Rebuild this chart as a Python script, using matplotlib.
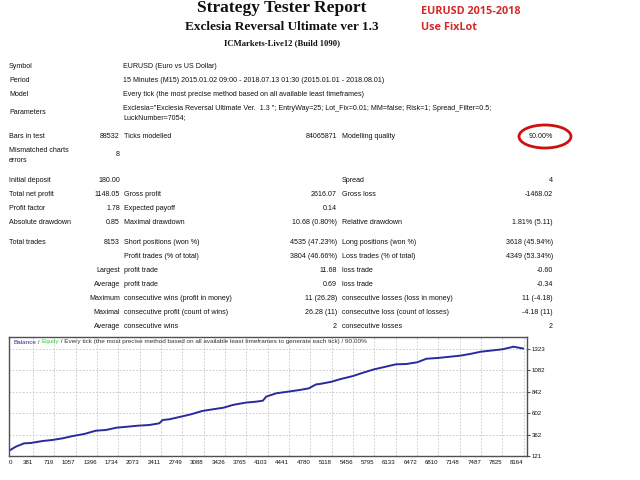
import matplotlib
matplotlib.use('Agg')
import matplotlib.pyplot as plt
from matplotlib.patches import Ellipse

plt.rcParams['font.family'] = ['Liberation Sans', 'DejaVu Sans']

# header texts
title = 'Strategy Tester Report'
expert = 'Exclesia Reversal Ultimate ver 1.3'
server = 'ICMarkets-Live12 (Build 1090)'
note = ['EURUSD 2015-2018', 'Use FixLot']

# settings block
info_labels = ['Symbol', 'Period', 'Model']
info_values = ['EURUSD (Euro vs US Dollar)',
               '15 Minutes (M15) 2015.01.02 09:00 - 2018.07.13 01:30 (2015.01.01 - 2018.08.01)',
               'Every tick (the most precise method based on all available least timeframes)']
params = ['Exclesia="Exclesia Reversal Ultimate Ver.  1.3 "; EntryWay=25; Lot_Fix=0.01; MM=false; Risk=1; Spread_Filter=0.5;',
          'LuckNumber=7054;']
bars_row = ('Bars in test', '88532', 'Ticks modelled', '84065871', 'Modelling quality', '90.00%')
mismatched = '8'

# results block
stats = [
    ('Initial deposit', '180.00', '', '', 'Spread', '4'),
    ('Total net profit', '1148.05', 'Gross profit', '2616.07', 'Gross loss', '-1468.02'),
    ('Profit factor', '1.78', 'Expected payoff', '0.14', '', ''),
    ('Absolute drawdown', '0.85', 'Maximal drawdown', '10.68 (0.80%)', 'Relative drawdown', '1.81% (5.11)'),
    ('Total trades', '8153', 'Short positions (won %)', '4535 (47.23%)', 'Long positions (won %)', '3618 (45.94%)'),
    ('', '', 'Profit trades (% of total)', '3804 (46.66%)', 'Loss trades (% of total)', '4349 (53.34%)'),
    ('', 'Largest', 'profit trade', '11.68', 'loss trade', '-0.60'),
    ('', 'Average', 'profit trade', '0.69', 'loss trade', '-0.34'),
    ('', 'Maximum', 'consecutive wins (profit in money)', '11 (26.28)', 'consecutive losses (loss in money)', '11 (-4.18)'),
    ('', 'Maximal', 'consecutive profit (count of wins)', '26.28 (11)', 'consecutive loss (count of losses)', '-4.18 (11)'),
    ('', 'Average', 'consecutive wins', '2', 'consecutive losses', '2'),
]
stats_y = [180, 194, 208, 222, 242, 256, 271, 284, 298, 312, 327]

# balance curve (trade number -> balance)
trade_no = [0, 106, 238, 345, 530, 689, 847, 1017, 1192, 1377, 1536, 1705, 1880, 2039,
            2225, 2384, 2437, 2543, 2729, 2888, 3062, 3231, 3401, 3549, 3751, 3920, 4026,
            4079, 4238, 4423, 4609, 4757, 4874, 4926, 5117, 5244, 5456, 5615, 5796, 5933,
            6135, 6304, 6474, 6622, 6808, 7151, 7310, 7485, 7827, 8003, 8153]
balance = [180, 225, 263, 267, 289, 301, 319, 346, 368, 405, 413, 439, 450, 461,
           469, 488, 525, 533, 563, 589, 626, 645, 663, 694, 720, 731, 742,
           787, 825, 843, 862, 881, 926, 929, 955, 982, 1019, 1056, 1095, 1117,
           1150, 1154, 1173, 1213, 1222, 1247, 1266, 1292, 1319, 1348, 1328]
x_ticks = [0, 381, 719, 1057, 1396, 1734, 2073, 2411, 2749, 3088, 3426, 3765, 4103,
           4441, 4780, 5118, 5456, 5795, 6133, 6472, 6810, 7148, 7487, 7825, 8164]
y_ticks = [121, 362, 602, 842, 1082, 1323]
caption = ['Balance', ' / ', 'Equity',
           ' / Every tick (the most precise method based on all available least timeframes to generate each tick) / 90.00%']

txt = '#111111'
fs = 5.1

fig = plt.figure(figsize=(6.4, 4.8), dpi=100)
fig.patch.set_facecolor('white')

# balance chart
ax = fig.add_axes([9 / 640, 1 - 456 / 480, 518 / 640, 119 / 480])
ax.plot(trade_no, balance, color='#2a2a9c', linewidth=1.4)
ax.set_xlim(0, 8216)
ax.set_ylim(121, 1457)
ax.set_xticks(x_ticks)
ax.set_xticklabels(x_ticks, fontsize=4.4, color=txt)
for i, t in enumerate(ax.get_xticklabels()):
    t.set_ha('left' if i == 0 else 'right')
ax.set_yticks(y_ticks)
ax.set_yticklabels(y_ticks, fontsize=4.4, color=txt)
ax.yaxis.tick_right()
ax.tick_params(axis='x', length=0, pad=3)
ax.tick_params(axis='y', length=2, pad=1.5, color='#505050')
for x in x_ticks[1:]:
    ax.axvline(x, color='#c4c4c4', linestyle=(0, (2, 2)), linewidth=0.6, zorder=0)
for y in y_ticks[1:]:
    ax.axhline(y, color='#c4c4c4', linestyle=(0, (2, 2)), linewidth=0.6, zorder=0)
for sp in ax.spines.values():
    sp.set_color('#505050')
    sp.set_linewidth(1)

# overlay in pixel coordinates for the report text
ov = fig.add_axes([0, 0, 1, 1], zorder=10)
ov.set_xlim(0, 640)
ov.set_ylim(480, 0)
ov.axis('off')

ov.text(282, 8, title, family='Liberation Serif', weight='bold', fontsize=12.5,
        ha='center', va='center', color='#111111')
ov.text(282, 27, expert, family='Liberation Serif', weight='bold', fontsize=9.5,
        ha='center', va='center', color='#111111')
ov.text(282, 43, server, family='Liberation Serif', weight='bold', fontsize=6.2,
        ha='center', va='center', color='#111111')
for i, s in enumerate(note):
    ov.text(421, 12 + 15 * i, s, family='Open Sans', weight='bold', fontsize=7.8,
            ha='left', va='center', color='#d42a2a')

for i, (lab, val) in enumerate(zip(info_labels, info_values)):
    y = 67 + 13.5 * i
    ov.text(9, y, lab, fontsize=fs, ha='left', va='center', color=txt)
    ov.text(123, y, val, fontsize=fs, ha='left', va='center', color=txt)
ov.text(9, 113, 'Parameters', fontsize=fs, ha='left', va='center', color=txt)
for i, p in enumerate(params):
    ov.text(123, 108 + 10 * i, p, fontsize=fs, ha='left', va='center', color=txt)

ov.text(9, 137, bars_row[0], fontsize=fs, ha='left', va='center', color=txt)
ov.text(120, 137, bars_row[1], fontsize=fs, ha='right', va='center', color=txt)
ov.text(124, 137, bars_row[2], fontsize=fs, ha='left', va='center', color=txt)
ov.text(337, 137, bars_row[3], fontsize=fs, ha='right', va='center', color=txt)
ov.text(342, 137, bars_row[4], fontsize=fs, ha='left', va='center', color=txt)
ov.text(553, 137, bars_row[5], fontsize=fs, ha='right', va='center', color=txt)
ov.add_patch(Ellipse((545, 136.5), 52, 23, fill=False, edgecolor='#cc1111', linewidth=2))

ov.text(9, 150, 'Mismatched charts', fontsize=fs, ha='left', va='center', color=txt)
ov.text(9, 160, 'errors', fontsize=fs, ha='left', va='center', color=txt)
ov.text(120, 154, mismatched, fontsize=fs, ha='right', va='center', color=txt)

for row, y in zip(stats, stats_y):
    ov.text(9, y, row[0], fontsize=fs, ha='left', va='center', color=txt)
    ov.text(120, y, row[1], fontsize=fs, ha='right', va='center', color=txt)
    ov.text(124, y, row[2], fontsize=fs, ha='left', va='center', color=txt)
    ov.text(337, y, row[3], fontsize=fs, ha='right', va='center', color=txt)
    ov.text(342, y, row[4], fontsize=fs, ha='left', va='center', color=txt)
    ov.text(553, y, row[5], fontsize=fs, ha='right', va='center', color=txt)

# caption inside the chart, drawn piece by piece
fig.canvas.draw()
r = fig.canvas.get_renderer()
colors = ['#2a2a9c', '#333333', '#33cc33', '#333333']
x0 = 13
for s, c in zip(caption, colors):
    t = ov.text(x0, 342, s, fontsize=4.6, ha='left', va='center', color=c)
    bb = t.get_window_extent(renderer=r)
    x0 += bb.width

fig.savefig('out.png', dpi=100, facecolor='white')
